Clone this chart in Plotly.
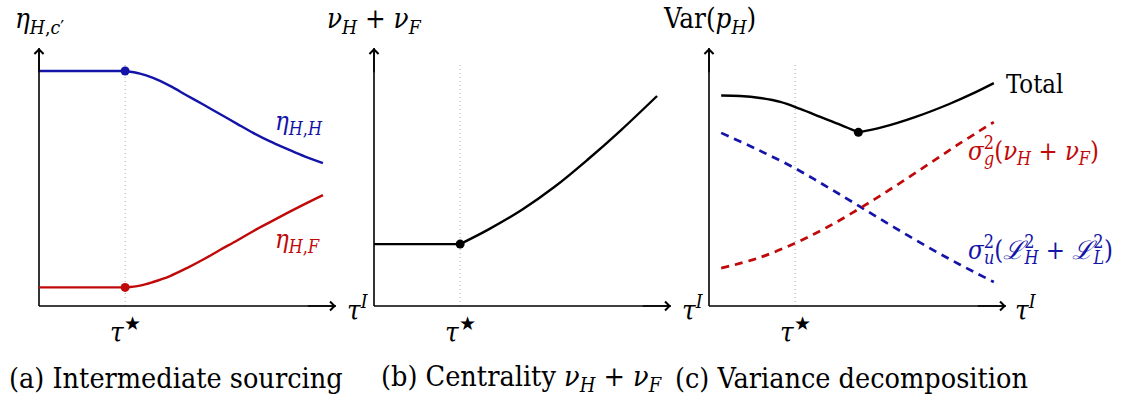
import plotly.graph_objects as go

W, H = 1133, 396

# ---------------- data (in abstract units: tau on x, value on y) ----------------
TAU_STAR = 2.9
X_END = 10.0
Y_TOP = 10.0
DOT_TOP = 9.46

# (a) Intermediate sourcing
a_x = [0.0, 2.9, 3.40, 3.84, 4.41, 4.98, 5.56, 6.09, 6.67, 7.21, 7.78, 8.35, 8.96, 9.56]
a_home = [9.11, 9.11, 9.01, 8.84, 8.53, 8.16, 7.79, 7.44, 7.06, 6.71, 6.38, 6.09, 5.79, 5.54]
a_foreign = [0.72, 0.72, 0.79, 0.93, 1.16, 1.47, 1.82, 2.17, 2.54, 2.90, 3.25, 3.60, 3.96, 4.30]

# (b) Centrality
b_x = [0.0, 2.9, 3.83, 4.97, 6.07, 7.18, 8.32, 9.53]
b_centrality = [2.4, 2.4, 2.95, 3.72, 4.61, 5.66, 6.82, 8.14]

# (c) Variance decomposition
c_x_left = [0.41, 1.05, 1.72, 2.40, 3.07, 3.75, 4.43, 5.03]
c_total_left = [8.16, 8.14, 8.06, 7.91, 7.64, 7.33, 7.02, 6.73]
c_x_right = [5.03, 5.84, 6.96, 8.07, 8.89, 9.59]
c_total_right = [6.73, 6.93, 7.33, 7.82, 8.24, 8.64]
c_dx = [0.41, 1.66, 2.91, 3.99, 5.10, 6.22, 7.36, 8.47, 9.59]
c_idio = [6.71, 6.05, 5.33, 4.61, 3.84, 3.06, 2.29, 1.59, 0.93]
c_agg = [1.47, 1.86, 2.44, 3.06, 3.80, 4.61, 5.47, 6.32, 7.13]

# ---------------- style ----------------
BLUE = "#1414a8"
RED = "#c00a0a"
BLACK = "#000000"
FONT = "DejaVu Serif Condensed, DejaVu Serif"
LW = 2.4

ORIG_X = [39, 374, 709]
XPX_PER_UNIT = 29.7
Y0_PX, YPX_PER_UNIT = 306, 25.8
PAD = 0.5

fig = go.Figure()


def axis_names(i):
    s = "" if i == 0 else str(i + 1)
    return "x" + s, "y" + s


layout = {}
for i, ox in enumerate(ORIG_X):
    x0 = ox - PAD * XPX_PER_UNIT
    x1 = ox + (X_END + PAD) * XPX_PER_UNIT
    ytop = Y0_PX - (Y_TOP + PAD) * YPX_PER_UNIT
    ybot = Y0_PX + PAD * YPX_PER_UNIT
    s = "" if i == 0 else str(i + 1)
    layout["xaxis" + s] = dict(domain=[x0 / W, x1 / W], range=[-PAD, X_END + PAD],
                               visible=False, fixedrange=True, anchor="y" + s)
    layout["yaxis" + s] = dict(domain=[1 - ybot / H, 1 - ytop / H], range=[-PAD, Y_TOP + PAD],
                               visible=False, fixedrange=True, anchor="x" + s)
fig.update_layout(**layout)


def line(i, x, y, color, width=LW, dash=None, shape="linear"):
    xa, ya = axis_names(i)
    fig.add_trace(go.Scatter(x=x, y=y, mode="lines", xaxis=xa, yaxis=ya,
                             line=dict(color=color, width=width, dash=dash, shape=shape,
                                       smoothing=1.0),
                             hoverinfo="skip", showlegend=False))


def dots(i, x, y, color):
    xa, ya = axis_names(i)
    fig.add_trace(go.Scatter(x=x, y=y, mode="markers", xaxis=xa, yaxis=ya,
                             marker=dict(color=color, size=9, line=dict(width=0)),
                             hoverinfo="skip", showlegend=False, cliponaxis=False))


for i in range(3):
    line(i, [TAU_STAR, TAU_STAR], [0, DOT_TOP], "#a8a8a8", width=1, dash="1px,3px")
    line(i, [0, X_END], [0, 0], BLACK, width=1.6)
    line(i, [0, 0], [0, Y_TOP], BLACK, width=1.6)

# (a)
line(0, a_x[:2], a_home[:2], BLUE)
line(0, a_x[1:], a_home[1:], BLUE, shape="spline")
line(0, a_x[:2], a_foreign[:2], RED)
line(0, a_x[1:], a_foreign[1:], RED, shape="spline")
dots(0, [a_x[1]], [a_home[1]], BLUE)
dots(0, [a_x[1]], [a_foreign[1]], RED)

# (b)
line(1, b_x[:2], b_centrality[:2], BLACK)
line(1, b_x[1:], b_centrality[1:], BLACK, shape="spline")
dots(1, [b_x[1]], [b_centrality[1]], BLACK)

# (c)
line(2, c_x_left, c_total_left, BLACK, shape="spline")
line(2, c_x_right, c_total_right, BLACK, shape="spline")
line(2, c_dx, c_idio, BLUE, width=2.7, dash="8px,6px", shape="spline")
line(2, c_dx, c_agg, RED, width=2.7, dash="8px,6px", shape="spline")
dots(2, [c_x_right[0]], [c_total_right[0]], BLACK)

annotations = []
for i in range(3):
    xa, ya = axis_names(i)
    annotations.append(dict(x=X_END, y=0, ax=X_END - 1, ay=0, xref=xa, yref=ya, axref=xa, ayref=ya,
                            text="", showarrow=True, arrowhead=4, arrowsize=1.1, arrowwidth=1.6,
                            arrowcolor=BLACK, standoff=0))
    annotations.append(dict(x=0, y=Y_TOP, ax=0, ay=Y_TOP - 1, xref=xa, yref=ya, axref=xa, ayref=ya,
                            text="", showarrow=True, arrowhead=4, arrowsize=1.1, arrowwidth=1.6,
                            arrowcolor=BLACK, standoff=0))


def txt(s, xpx, ypx, size=28, color=BLACK, xanchor="center", family=FONT):
    annotations.append(dict(text=s, x=xpx / W, y=1 - ypx / H, xref="paper", yref="paper",
                            showarrow=False, xanchor=xanchor, yanchor="middle",
                            font=dict(family=family, size=size, color=color)))


def stack(sup, sub, back):
    return ("<sup><span style='letter-spacing:-%dpx'>%s</span></sup><sub>%s</sub>"
            % (back, sup, sub))


LBL = 27.5
txt("<i>η</i><sub><i>H</i>,<i>c</i>′</sub>", 39, 21, LBL)
txt("<i>ν</i><sub><i>H</i></sub> + <i>ν</i><sub><i>F</i></sub>", 374, 21, LBL)
txt("Var(<i>p</i><sub><i>H</i></sub>)", 709, 21, LBL)
for xpx in (345, 680, 1013):
    txt("<i>τ</i><sup><i>I</i></sup>", xpx, 308, LBL, xanchor="left")
for ox in ORIG_X:
    txt("<i>τ</i><sup>★</sup>", ox + TAU_STAR * XPX_PER_UNIT, 330, LBL)
txt("<i>η</i><sub><i>H</i>,<i>H</i></sub>", 273, 123, 25.5, BLUE, "left")
txt("<i>η</i><sub><i>H</i>,<i>F</i></sub>", 273, 240, 25.5, RED, "left")
txt("Total", 1004, 84, 25.5, BLACK, "left")
txt("<i>σ</i>" + stack("2", "<i>g</i>", 10) +
    "(<i>ν</i><sub><i>H</i></sub> + <i>ν</i><sub><i>F</i></sub>)", 966, 150, 25.5, RED, "left")
txt("<i>σ</i>" + stack("2", "<i>u</i>", 10) + "(<i>ℒ</i>" + stack("2", "<i>H</i>", 10) +
    " + <i>ℒ</i>" + stack("2", "<i>L</i>", 10) + ")", 966, 250, 25.5, BLUE, "left")
CAP = 28.5
txt("(a) Intermediate sourcing", 176, 378, CAP)
txt("(b) Centrality <i>ν</i><sub><i>H</i></sub> + <i>ν</i><sub><i>F</i></sub>", 521, 378, CAP)
txt("(c) Variance decomposition", 851, 378, CAP)

fig.update_layout(width=W, height=H, margin=dict(l=0, r=0, t=0, b=0),
                  paper_bgcolor="white", plot_bgcolor="white",
                  annotations=annotations, showlegend=False)

fig.write_html("out.html", config={"displayModeBar": False})
